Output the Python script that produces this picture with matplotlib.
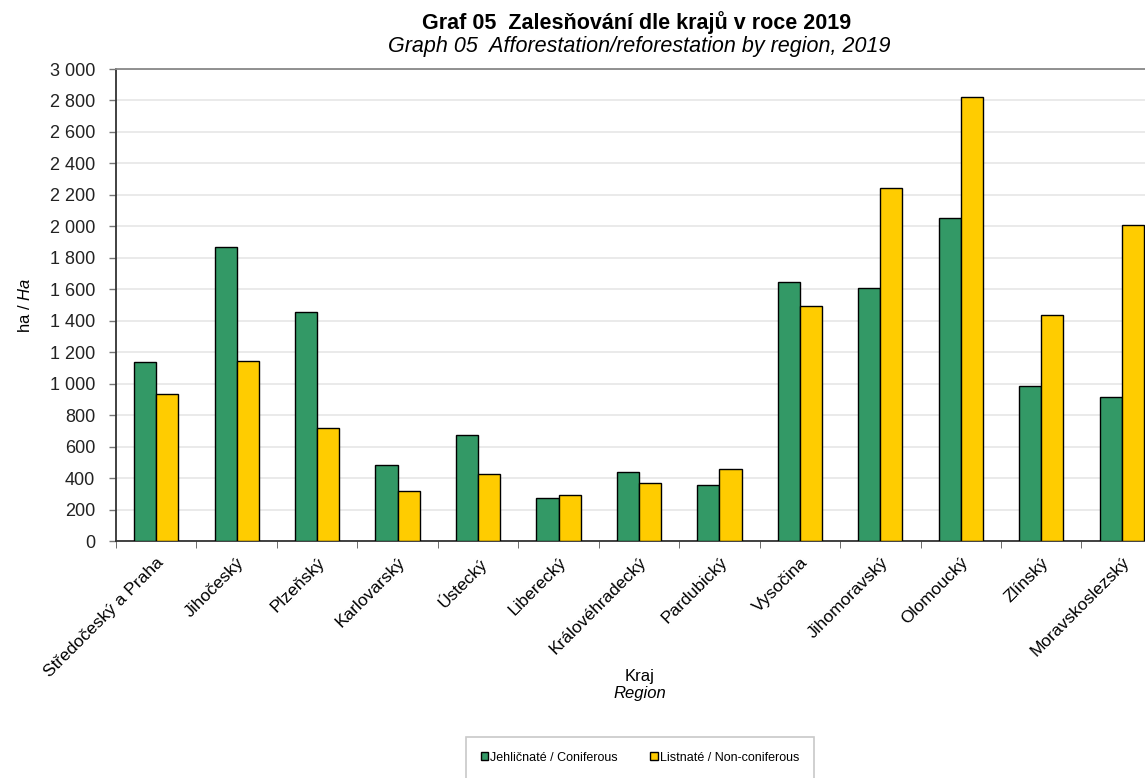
import numpy as np
import matplotlib.pyplot as plt
from matplotlib.ticker import FuncFormatter
from matplotlib.patches import Patch

plt.rcParams['font.family'] = ['Liberation Sans', 'DejaVu Sans']
plt.rcParams['mathtext.fontset'] = 'custom'
plt.rcParams['mathtext.rm'] = 'Liberation Sans'
plt.rcParams['mathtext.it'] = 'Liberation Sans:italic'

regions = ['Středočeský a Praha', 'Jihočeský', 'Plzeňský', 'Karlovarský', 'Ústecký',
           'Liberecký', 'Královéhradecký', 'Pardubický', 'Vysočina', 'Jihomoravský',
           'Olomoucký', 'Zlínský', 'Moravskoslezský']
coniferous = [1138, 1869, 1455, 483, 674, 273, 439, 356, 1646, 1608, 2052, 983, 914]
non_coniferous = [934, 1144, 718, 318, 426, 292, 369, 458, 1494, 2244, 2823, 1436, 2011]

green = '#339966'
yellow = '#ffcc00'

fig = plt.figure(figsize=(11.45, 7.78), dpi=100)
ax = fig.add_axes([0.1013, 0.3046, 0.9135, 0.6067])

x = np.arange(len(regions))
w = 0.275
ax.bar(x - w / 2, coniferous, w, color=green, edgecolor='black', linewidth=1.0, zorder=3)
ax.bar(x + w / 2, non_coniferous, w, color=yellow, edgecolor='black', linewidth=1.0, zorder=3)

ax.set_xlim(-0.5, len(regions) - 0.5)
ax.set_ylim(0, 3000)
ax.set_yticks(np.arange(0, 3001, 200))
ax.yaxis.set_major_formatter(FuncFormatter(lambda v, p: f'{int(v):,}'.replace(',', ' ')))
ax.tick_params(axis='y', length=5, width=1, color='#777777', labelsize=13, pad=10,
               labelcolor='#222222')
ax.yaxis.grid(True, color='#e6e6e6', linewidth=1.2, zorder=0)

# category labels at the group centres, ticks at the boundaries
ax.set_xticks(x)
ax.set_xticklabels(regions, rotation=45, ha='right', rotation_mode='anchor', fontsize=12.5)
ax.tick_params(axis='x', which='major', length=0, pad=10)
ax.set_xticks(np.arange(-0.5, len(regions), 1), minor=True)
ax.tick_params(axis='x', which='minor', length=5, color='#555555', direction='out')

for s in ['left', 'bottom']:
    ax.spines[s].set_color('#333333')
    ax.spines[s].set_linewidth(1.3)
ax.spines['top'].set_color('#888888')
ax.spines['top'].set_linewidth(1.3)
ax.spines['right'].set_visible(False)

ax.set_ylabel(r'ha / $\mathit{Ha}$', fontsize=12, labelpad=12)

fig.text(0.556, 0.971, 'Graf 05  Zalesňování dle krajů v roce 2019',
         ha='center', va='center', fontsize=15.5, fontweight='bold')
fig.text(0.558, 0.940, 'Graph 05  Afforestation/reforestation by region, 2019',
         ha='center', va='center', fontsize=15.5, style='italic')

fig.text(0.559, 0.131, 'Kraj', ha='center', va='center', fontsize=12)
fig.text(0.559, 0.108, 'Region', ha='center', va='center', fontsize=12, style='italic')

handles = [Patch(facecolor=green, edgecolor='black', linewidth=1),
           Patch(facecolor=yellow, edgecolor='black', linewidth=1)]
leg = fig.legend(handles, ['Jehličnaté / Coniferous', 'Listnaté / Non-coniferous'],
                 loc='upper center', bbox_to_anchor=(0.559, 0.053), ncol=2, fontsize=9,
                 handlelength=0.6, handleheight=0.6, handletextpad=0.15, columnspacing=2.6,
                 frameon=True, fancybox=False, borderpad=1.2, borderaxespad=0)
leg.get_frame().set_edgecolor('#bbbbbb')
leg.get_frame().set_linewidth(1.2)

fig.savefig('out.png', dpi=100)
